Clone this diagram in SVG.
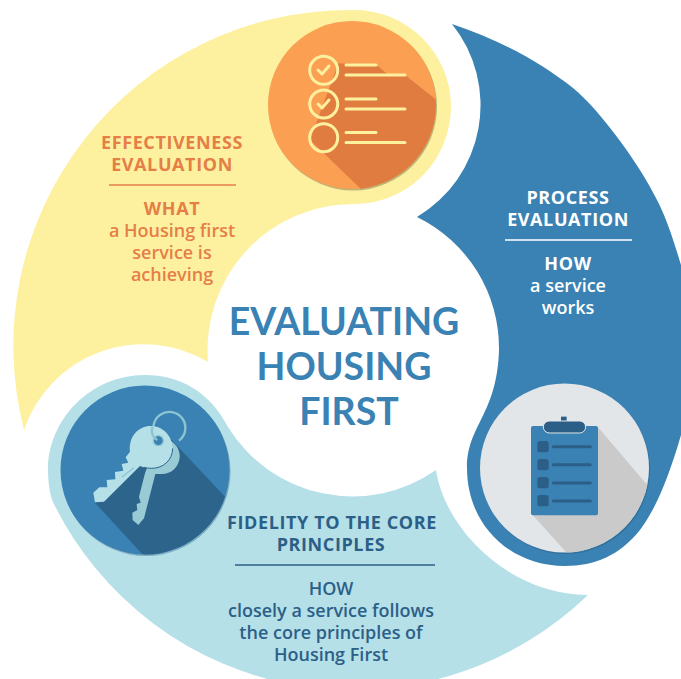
<svg xmlns="http://www.w3.org/2000/svg" width="681" height="679" viewBox="0 0 681 679">
<style>
text{font-family:"Open Sans","Liberation Sans",sans-serif;font-weight:600;font-size:18px;text-anchor:middle}
.o{fill:#e57e47}
.w{fill:#fff}
.d{fill:#2c5f87}
.h{font-weight:700;letter-spacing:.6px}
.t{fill:#3a82b3;font-size:37.500px;font-weight:700;font-family:"Lato",sans-serif}
.thin{fill:none;stroke:#fdf1a0;stroke-linecap:round;stroke-linejoin:round;stroke-width:3}
.dk{fill:#2c5f87}
.ln{stroke:#2c5f87;stroke-width:9;stroke-linecap:round}
.sh{fill:#5a5a40;opacity:.4}
</style>
<defs>
<clipPath id="c1"><circle cx="352" cy="105" r="84"/></clipPath>
<clipPath id="c2"><circle cx="564.500" cy="468" r="84.500"/></clipPath>
<clipPath id="c3"><circle cx="145" cy="470" r="84.500"/></clipPath>
</defs>
<rect width="681" height="679" fill="#fff"/>
<g id="effectiveness">
<path fill="#fdf1a0" d="M24 430A336 336 0 0 1 352 10A97 97 0 0 1 451 105C451 160 410 203 355 204A146 146 0 0 0 208 362A126 126 0 0 0 24 430Z"/>
<circle class="sh" cx="353" cy="106.500" r="84"/>
<circle cx="352" cy="105" r="84" fill="#fb9f52"/>
<g clip-path="url(#c1)">
<polygon fill="#e07c40" transform="translate(250 0) scale(.3333)" points="265,190 380,195 412,222 465,225 557,298 600,568 333,567 180,420"/>
</g>
<g class="thin">
<circle cx="323.700" cy="70.300" r="14"/><circle cx="323.700" cy="104" r="14"/><circle cx="323.700" cy="137.700" r="14"/>
<path d="M318 70l4 4 7-8M318 104l4 4 7-8"/>
<path d="M346 65h30M346 75h59M346 99h30M346 109h59M346 132.500h30M346 142.500h59"/>
</g>
</g>
<g id="process">
<path fill="#3a82b3" d="M452 24C500 40 540 62 573 88C600 110 640 165 657 200C665 215 672 235 681 265V435C668 480 655 510 640 530C620 555 595 566 565 566C510 566 467 525 467 468C467 425 497 415 499 350A146 146 0 0 0 417 217A130 130 0 0 0 452 24Z"/>
<circle cx="565.500" cy="469.500" r="84.500" fill="#2c5f87" opacity=".5"/>
<circle cx="564.500" cy="468" r="84.500" fill="#e3e6e9"/>
<g clip-path="url(#c2)">
<polygon fill="#cacaca" transform="translate(450 370) scale(.3333)" points="443,170 592,345 640,400 640,600 350,548 245,432"/>
</g>
<g transform="translate(450 370) scale(.3333)">
<rect x="243" y="168" width="201" height="268" rx="6" fill="#3a82b3"/>
<rect x="333" y="140" width="17" height="30" fill="#2c5f87"/>
<rect x="280" y="153" width="127" height="36" rx="18" fill="#2c5f87" stroke="#e3e6e9" stroke-width="3"/>
<rect class="dk" x="262" y="213" width="34" height="34" rx="8"/><rect class="dk" x="262" y="267" width="34" height="34" rx="8"/><rect class="dk" x="262" y="321" width="34" height="34" rx="8"/><rect class="dk" x="262" y="375" width="34" height="34" rx="8"/>
<path class="ln" d="M310 230h111M310 284h111M310 339h111M310 393h111"/>
</g>
</g>
<g id="fidelity">
<path fill="#b5e0e7" d="M145 375C180 375 210 392 228 427A146 146 0 0 0 436 470C445 530 510 595 588 595A340 340 0 0 1 300 686A335 335 0 0 1 52 500C49 490 48 480 48 470C48 420 90 375 145 375Z"/>
<circle cx="146" cy="471.500" r="84.500" fill="#2c5f87" opacity=".4"/>
<circle cx="145" cy="470" r="84.500" fill="#3a82b3"/>
<g clip-path="url(#c3)">
<polygon fill="#2c648c" transform="translate(30 370) scale(.3333)" points="420,205 585,380 640,440 640,600 337,553 195,398"/>
</g>
<g transform="translate(30 370) scale(.3333)">
<path d="M378 200A48 48 0 1 1 447 212" fill="none" stroke="#8cc5d2" stroke-width="7"/>
<path fill="#99cbd4" d="M385 205C420 200 452 228 449 262C446 295 420 315 390 312L376 312L342 445L325 465L308 450L307 428L322 420L320 402L332 398L327 380L345 310Z"/>
<path fill="#b5e0e7" d="M362 168C400 168 428 200 428 235C428 270 400 295 365 295C350 295 342 292 330 288L222 395L195 397L190 368L208 352L232 352L230 330L256 328L255 306L280 302L275 282L295 278L287 262L300 245C295 200 325 168 362 168Z"/>
<path d="M428 235C428 270 400 295 365 295C355 295 350 294 342 292" fill="none" stroke="#2c648c" stroke-width="3"/>
<path d="M275 322L312 293" stroke="#8cc5d2" stroke-width="4"/>
<circle cx="385" cy="212" r="15" fill="#3a82b3" stroke="#8cc5d2" stroke-width="4"/>
<path d="M368 170C360 190 372 205 382 210" fill="none" stroke="#8cc5d2" stroke-width="7"/>
</g>
</g>
<g id="center">
<text class="t" x="344" y="335">EVALUATING</text>
<text class="t" x="344" y="380">HOUSING</text>
<text class="t" x="349" y="425">FIRST</text>
</g>
<g id="labels">
<text class="o h" x="172" y="149">EFFECTIVENESS</text>
<text class="o h" x="172" y="171">EVALUATION</text>
<path d="M109 185H236" stroke="#e57e47" stroke-width="1.500"/>
<text class="o h" x="172" y="215">WHAT</text>
<text class="o" x="172" y="237">a Housing first</text>
<text class="o" x="172" y="259">service is</text>
<text class="o" x="172" y="281">achieving</text>
<text class="w h" x="568" y="204">PROCESS</text>
<text class="w h" x="568" y="226">EVALUATION</text>
<path d="M505 240H632" stroke="#fff" stroke-width="1.500"/>
<text class="w h" x="568" y="270">HOW</text>
<text class="w" x="568" y="292">a service</text>
<text class="w" x="568" y="314">works</text>
<text class="d h" x="332" y="529">FIDELITY TO THE CORE</text>
<text class="d h" x="331" y="551">PRINCIPLES</text>
<path d="M235 565H435" stroke="#2c5f87" stroke-width="1.500"/>
<text class="d" x="331" y="595">HOW</text>
<text class="d" x="331" y="617">closely a service follows</text>
<text class="d" x="331" y="639">the core principles of</text>
<text class="d" x="331" y="661">Housing First</text>
</g>
</svg>
